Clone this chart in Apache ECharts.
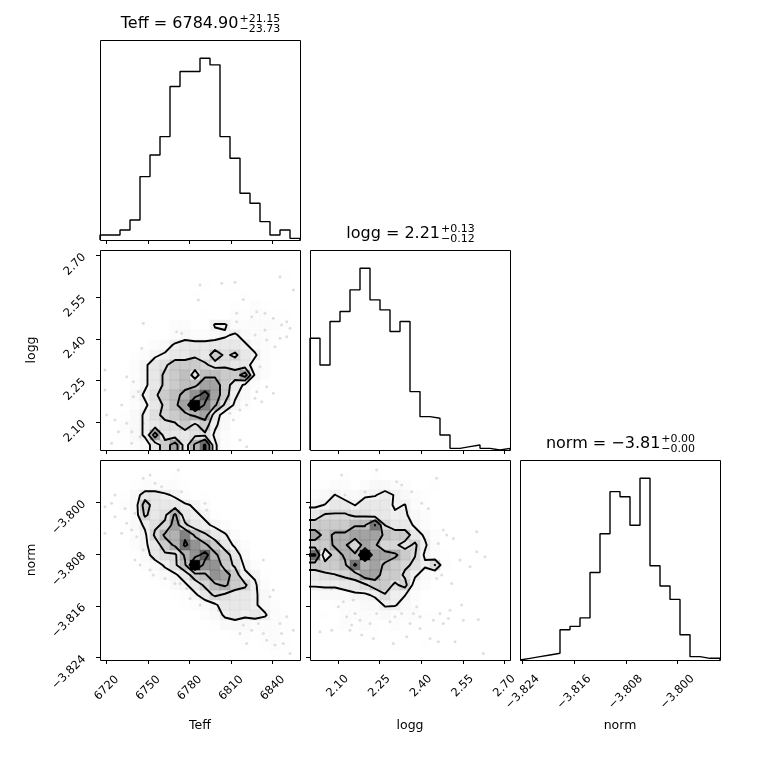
<!DOCTYPE html>
<html>
<head>
<meta charset="utf-8">
<script src="https://cdn.jsdelivr.net/npm/echarts@6.0.0/dist/echarts.min.js"></script>
<style>
  html, body { margin: 0; padding: 0; background: #fff; }
  #main { width: 760px; height: 760px; }
</style>
</head>
<body>
<div id="main"></div>
<script>
// axis limits of the three parameters
var teffRange = [6715.2, 6859.8];
var loggRange = [2.0, 2.72];
var normRange = [-3.8244, -3.7934];

// tick values
var teffTicks = [6720, 6750, 6780, 6810, 6840];
var loggTicks = [2.10, 2.25, 2.40, 2.55, 2.70];
var normTicks = [-3.824, -3.816, -3.808, -3.800];

// 1d histograms (20 bins each)
var teffHist = [3, 3, 6, 12, 38, 51, 62, 92, 101, 101, 109, 105, 62, 49, 28, 22, 11, 3, 6, 1];
var loggHist = [67, 51, 77, 83, 96, 109, 90, 84, 71, 77, 35, 20, 19, 9, 1, 2, 3, 1, 0, 1];
var normHist = [1, 2, 3, 4, 18, 20, 25, 52, 75, 100, 97, 80, 108, 56, 44, 36, 15, 2, 1, 1];

// titles
var titleNames = ['Teff', 'logg', 'norm'];
var titleMedians = ['6784.90', '2.21', '\u22123.81'];
var titlePlus = ['+21.15', '+0.13', '+0.00'];
var titleMinus = ['\u221223.73', '\u22120.12', '\u22120.00'];

// contour levels (counts per bin)
var levels = [4.5, 7.5, 10.5, 14.5];

// 2d histograms, rows from top (high y) to bottom, columns left to right
var teffLogg = [
  [0,0,0,0,0,0,0,0,0,0,0,0,0,0,0,0,0,0,0,0],
  [0,0,0,0,0,0,0,0,0,0,0,0,0,0,0,0,0,0,0,0],
  [0,0,0,0,0,0,0,0,0,0,0,0,0,0,0,0,0,0,1,0],
  [0,0,0,0,0,0,0,0,0,0,1,0,1,1,0,0,0,0,0,0],
  [0,0,0,0,0,0,0,0,0,1,0,0,0,0,1,0,0,0,0,0],
  [0,0,0,0,0,0,0,0,0,0,0,0,0,1,0,2,1,0,0,0],
  [0,0,0,0,0,0,0,0,0,0,1,0,0,2,1,2,2,1,1,0],
  [0,0,0,0,1,0,0,2,2,0,0,5,5,2,2,2,2,2,1,0],
  [0,0,0,0,0,0,0,2,3,2,2,3,4,5,3,2,2,1,0,0],
  [0,0,0,0,1,2,3,5,6,6,6,6,6,6,5,3,2,1,0,0],
  [0,0,0,1,2,4,5,6,6,7,6,9,7,8,6,5,2,1,0,0],
  [0,0,0,2,4,6,7,9,9,9,8,6.5,7,6,6,3,2,0,0,0],
  [0,0,0,2,4,6,8,9,10,6,10,10,9,9,12,4,2,0,0,0],
  [0,0,0,2,4,6,8,9,10,10,12,12,9,6,4,2,0,0,0,0],
  [0,0,0,3,5,7,9,10,11,13,16,12,9,5,3,0,0,0,0,0],
  [0,0,0,2,4,6,8,10,12,20,14,11,7,4,2,0,0,0,0,0],
  [0,0,1,3,5,7,8,9,10,11,12,6,3,2,0,0,0,0,0,0],
  [0,0,2,3,5,6,7,7,9,7,9,5,3,0,0,0,0,0,0,0],
  [0,0,1,3,5,12,6,6,6,7,7,4,2,0,0,0,0,0,0,0],
  [0,0,1,2,3,6,9,12,6,11,15,5,2,0,0,0,0,0,0,0]
];
var teffNorm = [
  [0,0,0,0,0,0,0,0,0,0,0,0,0,0,0,0,0,0,0,0],
  [0,0,0,0,1,1,0,1,0,0,0,0,0,0,0,0,0,0,0,0],
  [0,0,0,1,2,2,2,2,1,0,0,0,0,0,0,0,0,0,0,0],
  [0,0,1,3,6,6,5,4,2,0,1,0,0,0,0,0,0,0,0,0],
  [0,0,2,3,9,6,6,6,5,4,2,0,0,0,0,0,0,0,0,0],
  [0,0,1,3,8,6,7,11,6,5,4,1,0,0,0,0,0,0,0,0],
  [0,0,1,3,5,7,8,12,8,6,5,4,2,0,0,0,0,0,0,0],
  [0,0,0,2,4,8,11,11,14,10,8,6,5,2,0,0,0,0,0,0],
  [0,0,0,2,4,6,9,11,15,13,11,9,6,4,2,0,0,0,0,0],
  [0,0,0,1,3,6,7,7,11,13,16,11,9,6,3,0,0,0,0,0],
  [0,0,0,0,2,3,5,7,10,20,13,13,9,7,4,2,0,0,0,0],
  [0,0,0,0,0,2,3,4,6,9,10,13,12,9,5,4,1,0,0,0],
  [0,0,0,0,0,0,1,3,4,6,8,10,11,9,8,5,2,0,0,0],
  [0,0,0,0,0,0,0,1,2,4,6,8,7,6,6,5,3,1,0,0],
  [0,0,0,0,0,0,0,0,1,2,3,4,6,6,6,5,3,2,0,0],
  [0,0,0,0,0,0,0,0,0,0,2,3,5,6,5,6,5,2,1,0],
  [0,0,0,0,0,0,0,0,0,0,0,1,3,3,3,2,2,2,1,0],
  [0,0,0,0,0,0,0,0,0,0,0,0,0,1,2,1,2,2,1,0],
  [0,0,0,0,0,0,0,0,0,0,0,0,0,0,1,0,1,2,1,0],
  [0,0,0,0,0,0,0,0,0,0,0,0,0,0,0,0,0,1,1,0]
];
var loggNorm = [
  [0,0,0,0,0,0,0,0,0,0,0,0,0,0,0,0,0,0,0,0],
  [0,0,0,1,0,0,1,0,0,0,0,0,0,0,0,0,0,0,0,0],
  [0,1,2,2,0,2,3,3,2,2,0,0,1,0,0,0,0,0,0,0],
  [2,3,4.6,3,3,4,4.3,5.5,4.3,3,2,1,0,0,0,0,0,0,0,0],
  [4,4.6,6,6,4.4,6,6,6,4,4.6,2,1,0,0,0,0,0,0,0,0],
  [6,7.8,7.8,7.8,7,7,6,6,5,5,3,2,0,0,0,0,0,0,0,0],
  [9,9,9,9,10.3,10.3,14.6,7.4,6,6,4,2,0,0,0,0,0,0,0,0],
  [12,9.5,11,11,12,12,12,10,9,9,6,4,2,0,0,0,0,0,0,0],
  [9,9,11,11,8,12,11,8,8,6.5,8,5,2,0,0,0,0,0,0,0],
  [15,5,9,11,11,20,12,12,11,9,7.6,4,2,1,0,0,0,0,0,0],
  [9,9,9,10,15,11,12,10,9,8,7,5,7.6,2,0,0,0,0,0,0],
  [6,7,7.4,8,9,12,12,9,9,7,5,3,2,0,0,0,0,0,0,0],
  [5,5,5,6,6,7,9,9,7,8.5,3,2,0,0,0,0,0,0,0,0],
  [2,3,3,3,4,4,5,7.3,5,4.6,2,0,0,0,0,0,0,0,0,0],
  [0,0,1,2,2,3,3,4.8,4.8,3,2,0,0,0,0,0,0,0,0,0],
  [0,1,0,2,2,2,2,3,2,2,2,1,1,0,0,0,0,0,0,0],
  [1,0,1,2,0,2,1,0,2,1,0,1,1,0,0,0,0,0,0,0],
  [0,0,0,0,1,0,1,0,0,1,0,0,1,0,0,0,0,0,0,0],
  [0,0,0,0,0,0,0,0,1,0,0,1,0,0,0,0,0,0,0,0],
  [0,0,0,0,0,0,0,0,0,0,0,0,0,0,0,0,0,0,0,0]
];

// samples outside the contours
var teffLoggPts = [
  [6845.3,2.624],[6787.5,2.594],[6803.2,2.600],[6812.8,2.604],[6786.3,2.540],[6818.8,2.542],
  [6828.5,2.498],[6834.5,2.492],[6814.0,2.492],[6824.9,2.480],[6840.5,2.474],[6850.2,2.462],
  [6846.5,2.450],[6834.5,2.432],[6746.5,2.456],[6770.6,2.426],[6774.2,2.420],[6814.0,2.462],
  [6827.3,2.414],[6835.7,2.396],[6845.3,2.402],[6841.7,2.372],[6850.2,2.408],[6852.6,2.438],
  [6745.3,2.366],[6718.8,2.288],[6734.5,2.264],[6739.3,2.246],[6742.9,2.210],[6739.3,2.192],
  [6718.8,2.216],[6730.9,2.162],[6726.0,2.108],[6734.5,2.096],[6738.1,2.066],[6728.5,2.066],
  [6723.6,2.024],[6738.1,2.024],[6830.9,2.300],[6835.7,2.228],[6828.5,2.210],[6840.5,2.204],
  [6827.3,2.186],[6821.2,2.162],[6816.4,2.144],[6832.1,2.174],[6809.2,2.132],[6811.6,2.108],
  [6816.4,2.036],[6821.2,2.012],[6746.5,2.096],[6744.1,2.048],[6720.0,2.126],[6855.0,2.576]
];
var teffNormPts = [
  [6771.8,-3.79495],[6746.5,-3.79624],[6751.4,-3.79573],[6755.0,-3.79702],[6759.8,-3.79754],
  [6726.0,-3.79883],[6733.3,-3.80090],[6740.5,-3.80167],[6723.6,-3.80012],[6718.8,-3.80064],
  [6738.1,-3.80426],[6734.5,-3.80322],[6726.0,-3.80219],[6741.7,-3.80529],[6746.5,-3.80736],
  [6740.5,-3.80891],[6744.1,-3.80969],[6751.4,-3.81046],[6753.8,-3.81124],[6762.2,-3.81175],
  [6769.4,-3.81253],[6773.0,-3.81253],[6777.9,-3.81330],[6780.3,-3.81486],[6787.5,-3.81589],
  [6800.8,-3.81667],[6791.1,-3.80012],[6792.3,-3.80116],[6774.2,-3.79831],[6833.3,-3.80891],
  [6828.5,-3.81330],[6840.5,-3.81356],[6838.1,-3.81460],[6845.3,-3.81873],[6850.2,-3.81770],
  [6846.5,-3.82028],[6833.3,-3.82028],[6829.7,-3.81873],[6818.8,-3.81899],[6824.9,-3.81977],
  [6816.4,-3.82028],[6821.2,-3.82183],[6835.7,-3.82132],[6841.7,-3.82209],[6847.7,-3.82183],
  [6852.6,-3.82339],[6855.0,-3.81977],[6718.8,-3.80477],[6730.9,-3.80477]
];
var loggNormPts = [
  [2.114,-3.79573],[2.240,-3.79495],[2.198,-3.79831],[2.312,-3.79676],[2.330,-3.79728],
  [2.366,-3.79831],[2.456,-3.79624],[2.402,-3.80012],[2.426,-3.80090],[2.126,-3.79883],
  [2.480,-3.80426],[2.492,-3.80503],[2.516,-3.80555],[2.462,-3.80633],[2.600,-3.80452],
  [2.540,-3.80891],[2.576,-3.80994],[2.600,-3.80762],[2.630,-3.80839],[2.474,-3.81124],
  [2.456,-3.81175],[2.510,-3.81253],[2.546,-3.81589],[2.504,-3.81667],[2.468,-3.81718],
  [2.396,-3.81770],[2.372,-3.81718],[2.444,-3.81822],[2.480,-3.81873],[2.498,-3.81796],
  [2.360,-3.81873],[2.306,-3.81770],[2.288,-3.81847],[2.240,-3.81718],[2.216,-3.81873],
  [2.180,-3.81822],[2.162,-3.81718],[2.150,-3.81899],[2.132,-3.81770],[2.156,-3.81511],
  [2.120,-3.81537],[2.102,-3.81615],[2.078,-3.81330],[2.036,-3.82002],[2.078,-3.81977],
  [2.144,-3.81977],[2.186,-3.82054],[2.228,-3.82106],[2.300,-3.82183],[2.348,-3.82080],
  [2.396,-3.81951],[2.432,-3.82106],[2.462,-3.82158],[2.522,-3.82158],[2.552,-3.81822],
  [2.606,-3.81811],[2.624,-3.82339],[2.384,-3.81615],[2.330,-3.81718]
];

var NB = 20;
var FONT = 'DejaVu Sans';
var colX = [100, 310, 520];
var rowY = [40, 250, 460];
var SIZE = 200;

function binEdges(r) {
  var e = [];
  for (var i = 0; i <= NB; i++) e.push(r[0] + (r[1] - r[0]) * i / NB);
  return e;
}

// step outline of a histogram
function histLine(r, counts) {
  var e = binEdges(r);
  var d = [[e[0], 0]];
  counts.forEach(function (c, i) { d.push([e[i], c]); });
  d.push([e[NB], counts[NB - 1]]);
  d.push([e[NB], 0]);
  return d;
}

function maxOf(rows) {
  var m = 0;
  rows.forEach(function (r) { r.forEach(function (v) { if (v > m) m = v; }); });
  return m;
}

// black -> transparent white colormap, like corner's density map
function densColor(v, hmax) {
  var t = 1 - v / hmax;
  var g = Math.round(255 * t);
  return 'rgba(' + g + ',' + g + ',' + g + ',' + (1 - t).toFixed(3) + ')';
}

function heatData(rows) {
  var hmax = maxOf(rows), out = [];
  for (var j = 0; j < NB; j++) {
    for (var i = 0; i < NB; i++) {
      var v = rows[NB - 1 - j][i];
      if (v > 0) out.push({ value: [i, j, v], itemStyle: { color: densColor(v, hmax) } });
    }
  }
  return out;
}

// padded bin centres, as corner does before contouring
function padAxis(r) {
  var d = (r[1] - r[0]) / NB, c = [];
  for (var i = 0; i < NB; i++) c.push(r[0] + (i + 0.5) * d);
  return [c[0] - 2 * d, c[0] - d].concat(c, [c[NB - 1] + d, c[NB - 1] + 2 * d]);
}

function padGrid(rows) {
  var H = [], i, j;
  for (i = 0; i < NB; i++) {
    H.push([]);
    for (j = 0; j < NB; j++) H[i].push(rows[NB - 1 - j][i]);
  }
  var P = [];
  for (i = 0; i < NB + 4; i++) { P.push([]); for (j = 0; j < NB + 4; j++) P[i].push(0); }
  for (i = 0; i < NB; i++) for (j = 0; j < NB; j++) P[i + 2][j + 2] = H[i][j];
  for (i = 0; i < NB; i++) { P[i + 2][1] = H[i][0]; P[i + 2][NB + 2] = H[i][NB - 1]; }
  for (j = 0; j < NB; j++) { P[1][j + 2] = H[0][j]; P[NB + 2][j + 2] = H[NB - 1][j]; }
  P[1][1] = H[0][0]; P[1][NB + 2] = H[0][NB - 1];
  P[NB + 2][1] = H[NB - 1][0]; P[NB + 2][NB + 2] = H[NB - 1][NB - 1];
  return P;
}

var caseTable = {
  1: [['L', 'B']], 2: [['B', 'R']], 3: [['L', 'R']], 4: [['R', 'T']], 6: [['B', 'T']],
  7: [['L', 'T']], 8: [['L', 'T']], 9: [['B', 'T']], 11: [['R', 'T']], 12: [['L', 'R']],
  13: [['B', 'R']], 14: [['L', 'B']]
};

// marching squares
function march(P, xs, ys, L) {
  var segs = [], n = P.length;
  function hp(i, j) {
    var a = P[i][j], b = P[i + 1][j];
    return ['h' + i + '_' + j, [xs[i] + (L - a) / (b - a) * (xs[i + 1] - xs[i]), ys[j]]];
  }
  function vp(i, j) {
    var a = P[i][j], b = P[i][j + 1];
    return ['v' + i + '_' + j, [xs[i], ys[j] + (L - a) / (b - a) * (ys[j + 1] - ys[j])]];
  }
  for (var i = 0; i < n - 1; i++) {
    for (var j = 0; j < n - 1; j++) {
      var a = P[i][j], b = P[i + 1][j], c = P[i + 1][j + 1], d = P[i][j + 1];
      var code = (a >= L ? 1 : 0) | (b >= L ? 2 : 0) | (c >= L ? 4 : 0) | (d >= L ? 8 : 0);
      if (code === 0 || code === 15) continue;
      var ctr = (a + b + c + d) / 4, pairs;
      if (code === 5) pairs = ctr >= L ? [['L', 'T'], ['B', 'R']] : [['L', 'B'], ['R', 'T']];
      else if (code === 10) pairs = ctr >= L ? [['L', 'B'], ['R', 'T']] : [['B', 'R'], ['L', 'T']];
      else pairs = caseTable[code];
      pairs.forEach(function (p) {
        var e = p.map(function (k) {
          return k === 'B' ? hp(i, j) : k === 'T' ? hp(i, j + 1) : k === 'L' ? vp(i, j) : vp(i + 1, j);
        });
        segs.push([e[0][0], e[0][1], e[1][0], e[1][1]]);
      });
    }
  }
  return segs;
}

// join segments into polylines
function chain(segs) {
  var map = {}, used = [], lines = [];
  segs.forEach(function (s, k) {
    (map[s[0]] = map[s[0]] || []).push(k);
    (map[s[2]] = map[s[2]] || []).push(k);
  });
  function next(key) {
    var l = map[key] || [];
    for (var q = 0; q < l.length; q++) if (!used[l[q]]) return l[q];
    return -1;
  }
  for (var k = 0; k < segs.length; k++) {
    if (used[k]) continue;
    used[k] = true;
    var line = [segs[k][1], segs[k][3]];
    var key = segs[k][2], nx;
    while ((nx = next(key)) >= 0) {
      used[nx] = true;
      var s = segs[nx];
      if (s[0] === key) { line.push(s[3]); key = s[2]; } else { line.push(s[1]); key = s[0]; }
    }
    key = segs[k][0];
    while ((nx = next(key)) >= 0) {
      used[nx] = true;
      var s2 = segs[nx];
      if (s2[0] === key) { line.unshift(s2[3]); key = s2[2]; } else { line.unshift(s2[1]); key = s2[0]; }
    }
    lines.push(line);
  }
  return lines;
}

function contourData(rows, rx, ry) {
  var P = padGrid(rows), xs = padAxis(rx), ys = padAxis(ry), out = [];
  levels.forEach(function (L) {
    chain(march(P, xs, ys, L)).forEach(function (pts) { out.push({ coords: pts }); });
  });
  return out;
}

function fmtTeff(v) { return String(Math.round(v)); }
function fmtLogg(v) { return v.toFixed(2); }
function fmtNorm(v) { return v.toFixed(3).replace('-', '\u2212'); }

var tickStyle = { show: true, length: 4, lineStyle: { color: '#000', width: 1 } };

function valAxis(grid, range, ticks, fmt, showLabels, isX, margin) {
  var ax = {
    type: 'value', gridIndex: grid, min: range[0], max: range[1],
    axisLine: { show: false }, splitLine: { show: false },
    axisTick: Object.assign({ customValues: ticks }, tickStyle),
    axisLabel: {
      show: showLabels, customValues: ticks, formatter: fmt, rotate: 45,
      fontFamily: FONT, fontSize: 11.5, color: '#000', margin: margin
    }
  };
  if (isX) { ax.axisLabel.align = 'center'; ax.axisLabel.verticalAlign = 'middle'; }
  return ax;
}
function countAxis(grid, counts) {
  return {
    type: 'value', gridIndex: grid, min: 0, max: Math.max.apply(null, counts) * 1.1,
    show: false, splitLine: { show: false }
  };
}
var binIdx = [];
for (var b = 0; b < NB; b++) binIdx.push(String(b));
function catAxis(grid) {
  return { type: 'category', gridIndex: grid, data: binIdx, show: false, boundaryGap: true };
}

var grids = [
  [0, 0], [0, 1], [1, 1], [0, 2], [1, 2], [2, 2]
].map(function (p) {
  return { left: colX[p[0]], top: rowY[p[1]], width: SIZE, height: SIZE, show: false };
});

var xAxes = [
  valAxis(0, teffRange, teffTicks, fmtTeff, false, true, 28),
  valAxis(1, teffRange, teffTicks, fmtTeff, false, true, 28),
  valAxis(2, loggRange, loggTicks, fmtLogg, false, true, 26),
  valAxis(3, teffRange, teffTicks, fmtTeff, true, true, 28),
  valAxis(4, loggRange, loggTicks, fmtLogg, true, true, 26),
  valAxis(5, normRange, normTicks, fmtNorm, true, true, 32),
  catAxis(1), catAxis(3), catAxis(4)
];
var yAxes = [
  countAxis(0, teffHist),
  valAxis(1, loggRange, loggTicks, fmtLogg, true, false, 16),
  countAxis(2, loggHist),
  valAxis(3, normRange, normTicks, fmtNorm, true, false, 16),
  valAxis(4, normRange, normTicks, fmtNorm, false, false, 16),
  countAxis(5, normHist),
  catAxis(1), catAxis(3), catAxis(4)
];

function histSeries(ax, range, counts) {
  return {
    type: 'line', xAxisIndex: ax, yAxisIndex: ax, data: histLine(range, counts),
    step: 'end', showSymbol: false, symbol: 'none', silent: true, z: 3,
    lineStyle: { color: '#000', width: 1.4 }
  };
}
function pointSeries(ax, pts) {
  return {
    type: 'scatter', xAxisIndex: ax, yAxisIndex: ax, data: pts, symbolSize: 3, silent: true, z: 1,
    itemStyle: { color: 'rgba(0,0,0,0.16)' }
  };
}
function densSeries(ax, rows) {
  return {
    type: 'heatmap', xAxisIndex: ax, yAxisIndex: ax, data: heatData(rows), silent: true, z: 2,
    emphasis: { disabled: true }
  };
}
function contourSeries(ax, rows, rx, ry) {
  return {
    type: 'lines', coordinateSystem: 'cartesian2d', xAxisIndex: ax, yAxisIndex: ax,
    polyline: true, data: contourData(rows, rx, ry), silent: true, z: 4, clip: true,
    lineStyle: { color: '#000', width: 1.9, opacity: 1, join: 'round', cap: 'round' }
  };
}

var series = [
  histSeries(0, teffRange, teffHist),
  histSeries(2, loggRange, loggHist),
  histSeries(5, normRange, normHist),
  pointSeries(1, teffLoggPts),
  pointSeries(3, teffNormPts),
  pointSeries(4, loggNormPts),
  densSeries(6, teffLogg),
  densSeries(7, teffNorm),
  densSeries(8, loggNorm),
  contourSeries(1, teffLogg, teffRange, loggRange),
  contourSeries(3, teffNorm, teffRange, normRange),
  contourSeries(4, loggNorm, loggRange, normRange)
];

// titles with super/subscripts, axis names and panel frames
var measure = document.createElement('canvas').getContext('2d');
function textWidth(s, size) {
  measure.font = size + 'px "' + FONT + '"';
  return measure.measureText(s).width;
}
function textEl(str, px, py, size, align, rot) {
  return {
    type: 'text', x: px, y: py, rotation: rot || 0, silent: true, z: 100,
    style: { text: str, font: size + 'px "' + FONT + '"', fill: '#000', align: align, verticalAlign: 'middle' }
  };
}
function buildGraphics() {
  var out = [];
  grids.forEach(function (g) {
    out.push({
      type: 'rect', z: 100, silent: true,
      shape: { x: g.left + 0.5, y: g.top + 0.5, width: SIZE, height: SIZE },
      style: { fill: 'none', stroke: '#000', lineWidth: 1 }
    });
  });
  for (var k = 0; k < 3; k++) {
    var mainText = titleNames[k] + ' = ' + titleMedians[k];
    var wm = textWidth(mainText, 16);
    var ws = Math.max(textWidth(titlePlus[k], 11), textWidth(titleMinus[k], 11));
    var x0 = colX[k] + SIZE / 2 - (wm + ws) / 2;
    var y0 = rowY[k];
    out.push(textEl(mainText, x0, y0 - 16, 16, 'left'));
    out.push(textEl(titlePlus[k], x0 + wm + 1, y0 - 21, 11, 'left'));
    out.push(textEl(titleMinus[k], x0 + wm + 1, y0 - 10.5, 11, 'left'));
    out.push(textEl(titleNames[k], colX[k] + SIZE / 2, 726, 12.5, 'center'));
  }
  [1, 2].forEach(function (k) {
    out.push(textEl(titleNames[k], 32, rowY[k] + SIZE / 2, 12.5, 'center', Math.PI / 2));
  });
  return out;
}

var myChart = echarts.init(document.getElementById('main'), null, { renderer: 'canvas' });
myChart.setOption({
  animation: false,
  backgroundColor: '#fff',
  grid: grids,
  xAxis: xAxes,
  yAxis: yAxes,
  series: series,
  graphic: { elements: buildGraphics() }
});
</script>
</body>
</html>
